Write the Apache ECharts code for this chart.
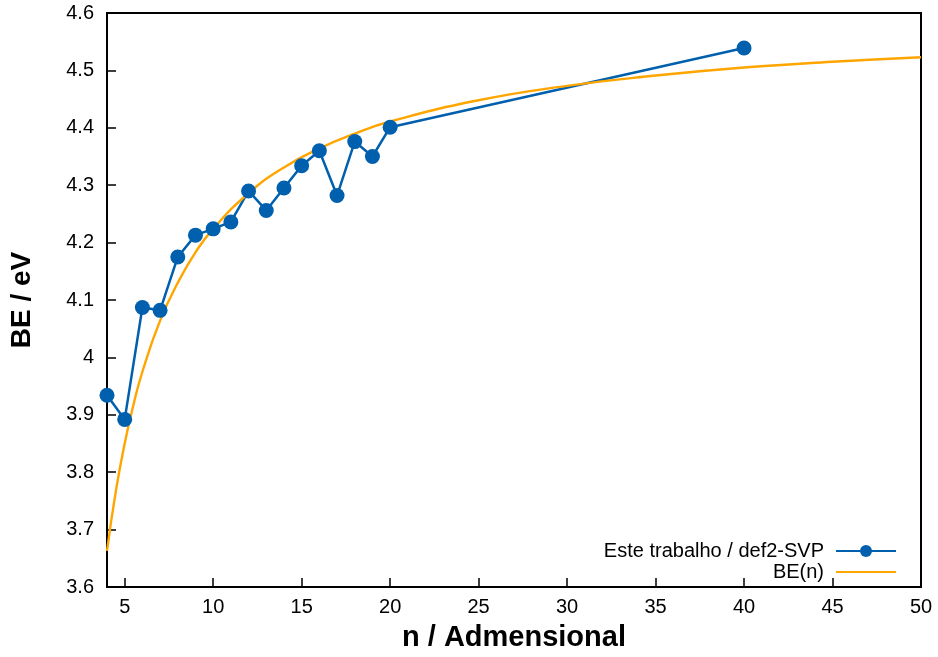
<!DOCTYPE html>
<html lang="pt">
<head>
  <meta charset="UTF-8">
  <title>BE(n)</title>
  <script src="https://cdn.jsdelivr.net/npm/echarts@6/dist/echarts.min.js"></script>
  <style>
    html, body { margin: 0; padding: 0; background: #fff; }
    #chart { width: 938px; height: 657px; }
  </style>
</head>
<body>
  <div id="chart"></div>
  <script>
    // pontos calculados (def2-SVP)
    var nValues = [4, 5, 6, 7, 8, 9, 10, 11, 12, 13, 14, 15, 16, 17, 18, 19, 20, 40]
    var beValues = [3.934, 3.892, 4.087, 4.082, 4.175, 4.213, 4.224, 4.236, 4.290, 4.256,
      4.295, 4.334, 4.360, 4.282, 4.376, 4.350, 4.401, 4.539]

    // curva BE(n)
    var fitN = [4, 4.5, 5, 5.5, 6, 7, 8, 9, 10, 12, 14, 16, 18, 20, 25, 30, 35, 40, 45, 50]
    var fitBE = [3.663, 3.767, 3.850, 3.918, 3.975, 4.064, 4.130, 4.183, 4.224, 4.286,
      4.331, 4.364, 4.390, 4.411, 4.448, 4.473, 4.491, 4.505, 4.515, 4.523]

    var xTicks = [5, 10, 15, 20, 25, 30, 35, 40, 45, 50]
    var serieNames = ['Este trabalho / def2-SVP', 'BE(n)']

    function pairs (xs, ys) {
      return xs.map(function (x, i) { return [x, ys[i]] })
    }

    var font = '"Liberation Sans", Arial, sans-serif'
    var legendText = { fontFamily: font, fontSize: 20, color: '#000', padding: [0, 7, 0, 0] }
    var chart = echarts.init(document.getElementById('chart'))

    chart.setOption({
      animation: false,
      textStyle: { fontFamily: font, color: '#000' },
      grid: {
        left: 107, top: 13, right: 17, bottom: 69,
        show: true, borderColor: '#000', borderWidth: 2
      },
      legend: [
        {
          data: [serieNames[0]],
          right: 36, top: 536,
          align: 'right',
          itemWidth: 60, itemHeight: 15, itemGap: 0,
          textStyle: legendText
        },
        {
          data: [serieNames[1]],
          right: 36, top: 557,
          align: 'right',
          itemWidth: 60, itemHeight: 2.5, itemGap: 0,
          textStyle: legendText
        }
      ],
      xAxis: {
        type: 'value',
        min: 4, max: 50,
        name: 'n / Admensional',
        nameLocation: 'middle',
        nameGap: 36,
        nameTextStyle: { fontFamily: font, fontSize: 29, fontWeight: 'bold', color: '#000' },
        axisLine: { show: true, lineStyle: { color: '#000', width: 2 } },
        axisTick: { inside: true, length: 9, customValues: xTicks, lineStyle: { color: '#000', width: 1.5 } },
        axisLabel: { customValues: xTicks, fontFamily: font, fontSize: 20, color: '#000', margin: 10 },
        splitLine: { show: false }
      },
      yAxis: {
        type: 'value',
        min: 3.6, max: 4.6, interval: 0.1,
        name: 'BE / eV',
        nameLocation: 'middle',
        nameGap: 71,
        nameTextStyle: { fontFamily: font, fontSize: 28, fontWeight: 'bold', color: '#000' },
        axisLine: { show: true, lineStyle: { color: '#000', width: 2 } },
        axisTick: { inside: true, length: 9, lineStyle: { color: '#000', width: 1.5 } },
        axisLabel: {
          fontFamily: font, fontSize: 20, color: '#000', margin: 13,
          formatter: function (v) { return String(Math.round(v * 10) / 10) }
        },
        splitLine: { show: false }
      },
      series: [
        {
          name: serieNames[0],
          type: 'line',
          data: pairs(nValues, beValues),
          symbol: 'circle',
          symbolSize: 15,
          itemStyle: { color: '#0060ad' },
          lineStyle: { color: '#0060ad', width: 2.5 }
        },
        {
          name: serieNames[1],
          type: 'line',
          data: pairs(fitN, fitBE),
          smooth: true,
          symbol: 'none',
          legendIcon: 'rect',
          itemStyle: { color: '#ffa500' },
          lineStyle: { color: '#ffa500', width: 2.4 }
        }
      ]
    })
  </script>
</body>
</html>
